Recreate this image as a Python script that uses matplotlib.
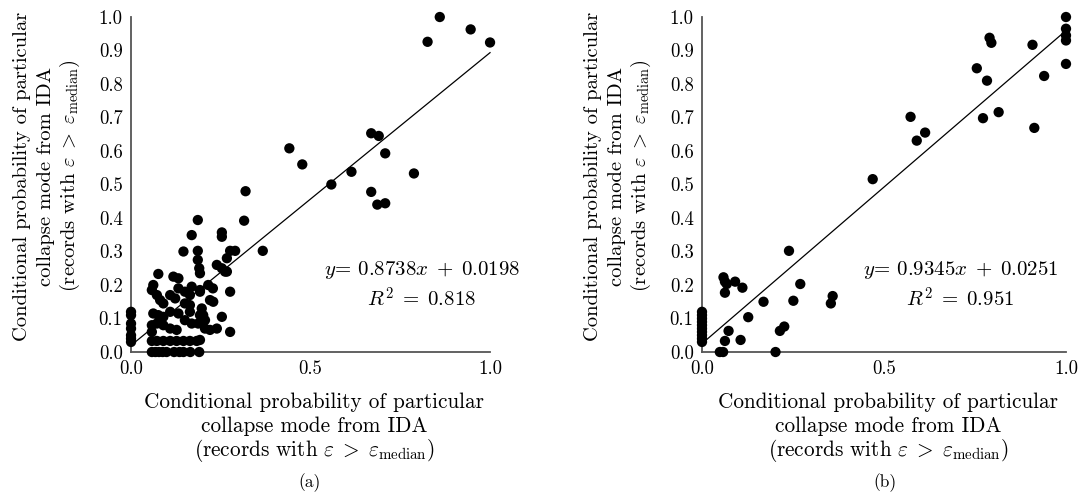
import numpy as np
import matplotlib
matplotlib.use("Agg")
import matplotlib.pyplot as plt

# Computer Modern look
plt.rcParams['font.family'] = 'serif'
plt.rcParams['font.serif'] = ['cmr10']
plt.rcParams['mathtext.fontset'] = 'cm'
plt.rcParams['axes.formatter.use_mathtext'] = True

# (a) data
x_a = [0, 0, 0, 0, 0, 0, 0,
       0.058, 0.068, 0.078, 0.088, 0.099, 0.12, 0.135, 0.146, 0.165, 0.19,
       0.058, 0.072, 0.09, 0.109, 0.127, 0.146, 0.164, 0.183, 0.192,
       0.058, 0.058, 0.072, 0.09, 0.109, 0.127, 0.15, 0.169, 0.187, 0.206, 0.22, 0.239, 0.276,
       0.062, 0.076, 0.09, 0.109, 0.132, 0.164, 0.192, 0.197, 0.201, 0.206, 0.253,
       0.072, 0.081, 0.09, 0.109, 0.123, 0.15, 0.164, 0.164, 0.22, 0.229,
       0.062, 0.058, 0.132, 0.15, 0.169, 0.192, 0.215, 0.192, 0.276, 0.228,
       0.076, 0.118, 0.132, 0.192, 0.262, 0.253, 0.239, 0.267,
       0.146, 0.186, 0.186, 0.19, 0.169, 0.186, 0.253, 0.253, 0.267, 0.276, 0.29, 0.367, 0.315, 0.319,
       0.441, 0.477, 0.558, 0.614, 0.669, 0.69, 0.708, 0.669, 0.686, 0.708, 0.788,
       0.826, 0.86, 0.946, 1.0]
y_a = [0.12, 0.11, 0.085, 0.07, 0.05, 0.04, 0.03,
       0, 0, 0, 0, 0, 0, 0, 0, 0, 0,
       0.033, 0.033, 0.033, 0.033, 0.033, 0.033, 0.033, 0.033, 0.036,
       0.06, 0.08, 0.085, 0.08, 0.07, 0.066, 0.095, 0.085, 0.085, 0.07, 0.066, 0.07, 0.06,
       0.115, 0.11, 0.105, 0.12, 0.115, 0.12, 0.11, 0.13, 0.11, 0.095, 0.105,
       0.17, 0.155, 0.145, 0.17, 0.16, 0.145, 0.14, 0.17, 0.155, 0.15,
       0.2, 0.185, 0.19, 0.18, 0.195, 0.185, 0.2, 0.18, 0.18, 0.19,
       0.233, 0.225, 0.22, 0.235, 0.24, 0.25, 0.26, 0.24,
       0.30, 0.302, 0.275, 0.25, 0.349, 0.394, 0.357, 0.344, 0.28, 0.302, 0.302, 0.302, 0.392, 0.48,
       0.608, 0.56, 0.50, 0.538, 0.653, 0.645, 0.593, 0.478, 0.44, 0.444, 0.533,
       0.926, 1.0, 0.963, 0.924]

# (b) data
x_b = [0, 0, 0, 0, 0, 0, 0, 0, 0, 0,
       0.059, 0.063, 0.068, 0.063, 0.091, 0.111, 0.169, 0.27, 0.251, 0.359, 0.354,
       0.127, 0.073, 0.063, 0.106, 0.226, 0.214, 0.049, 0.058, 0.202, 0.239,
       0.469, 0.573, 0.59, 0.613, 0.755, 0.783, 0.79, 0.795, 0.772, 0.815,
       0.908, 0.913, 0.94, 1.0, 1.0, 1.0, 1.0, 1.0]
y_b = [0.12, 0.11, 0.10, 0.09, 0.08, 0.07, 0.06, 0.05, 0.04, 0.03,
       0.223, 0.21, 0.203, 0.177, 0.21, 0.192, 0.15, 0.203, 0.153, 0.167, 0.145,
       0.104, 0.063, 0.033, 0.036, 0.076, 0.063, 0, 0, 0, 0.302,
       0.516, 0.702, 0.631, 0.655, 0.847, 0.81, 0.938, 0.923, 0.698, 0.716,
       0.917, 0.669, 0.824, 1.0, 0.965, 0.945, 0.93, 0.86]

fits = [(0.8738, 0.0198, 0.818), (0.9345, 0.0251, 0.951)]
panels = [(x_a, y_a, "(a)"), (x_b, y_b, "(b)")]

label_lines = ["Conditional probability of particular",
               "collapse mode from IDA",
               r"(records with $\varepsilon\;>\;\varepsilon_{\mathrm{median}}$)"]

W, H = 1082, 496
fig = plt.figure(figsize=(W / 100, H / 100), dpi=100)
rects = [[0.1211, 0.2903, 0.3318, 0.6754], [0.6488, 0.2903, 0.3364, 0.6754]]
txt_pos = [(0.81, 0.20), (0.71, 0.20)]
xlab_cx = [314, 888]          # pixel centre of x-label block
spine_px = [131, 702]         # pixel x of y-axis
ylab_cy = 176                 # pixel centre of y-label block
tag_cx = [310, 885]

for i, ((xs, ys, tag), (a, b, r2)) in enumerate(zip(panels, fits)):
    ax = fig.add_axes(rects[i])
    ax.scatter(xs, ys, s=55, c="black", edgecolors="none", clip_on=False, zorder=3)
    xl = np.array([0.0, 1.0])
    ax.plot(xl, a * xl + b, color="black", lw=0.9, clip_on=False)
    ax.set_xlim(0, 1)
    ax.set_ylim(0, 1)
    ax.set_xticks([0, 0.5, 1.0])
    ax.set_yticks(np.arange(0, 1.01, 0.1))
    ax.xaxis.set_major_formatter(matplotlib.ticker.FormatStrFormatter("%.1f"))
    ax.yaxis.set_major_formatter(matplotlib.ticker.FormatStrFormatter("%.1f"))
    ax.tick_params(length=0, labelsize=13.5, pad=6)
    for s in ["top", "right"]:
        ax.spines[s].set_visible(False)
    for s in ["left", "bottom"]:
        ax.spines[s].set_color("#555555")
        ax.spines[s].set_linewidth(1.3)

    # axis labels, one line each so the spacing stays even
    for k, line in enumerate(label_lines):
        fig.text(xlab_cx[i] / W, 1 - (408 + 24 * k) / H, line,
                 ha="center", va="baseline", fontsize=15.3)
        fig.text((spine_px[i] - 104 + 24 * k) / W, 1 - ylab_cy / H, line,
                 ha="center", va="baseline", rotation=90, rotation_mode="anchor",
                 fontsize=14.8)

    eq = (r"$y\!=\,%.4fx\;+\;%.4f$" "\n" r"$R^2\;=\;%.3f$") % (a, b, r2)
    ax.text(txt_pos[i][0], txt_pos[i][1], eq,
            ha="center", va="center", fontsize=15, linespacing=1.3)
    fig.text(tag_cx[i] / W, 1 - 483 / H, tag, ha="center", va="center", fontsize=12.5)

plt.savefig("out.png", dpi=100)
